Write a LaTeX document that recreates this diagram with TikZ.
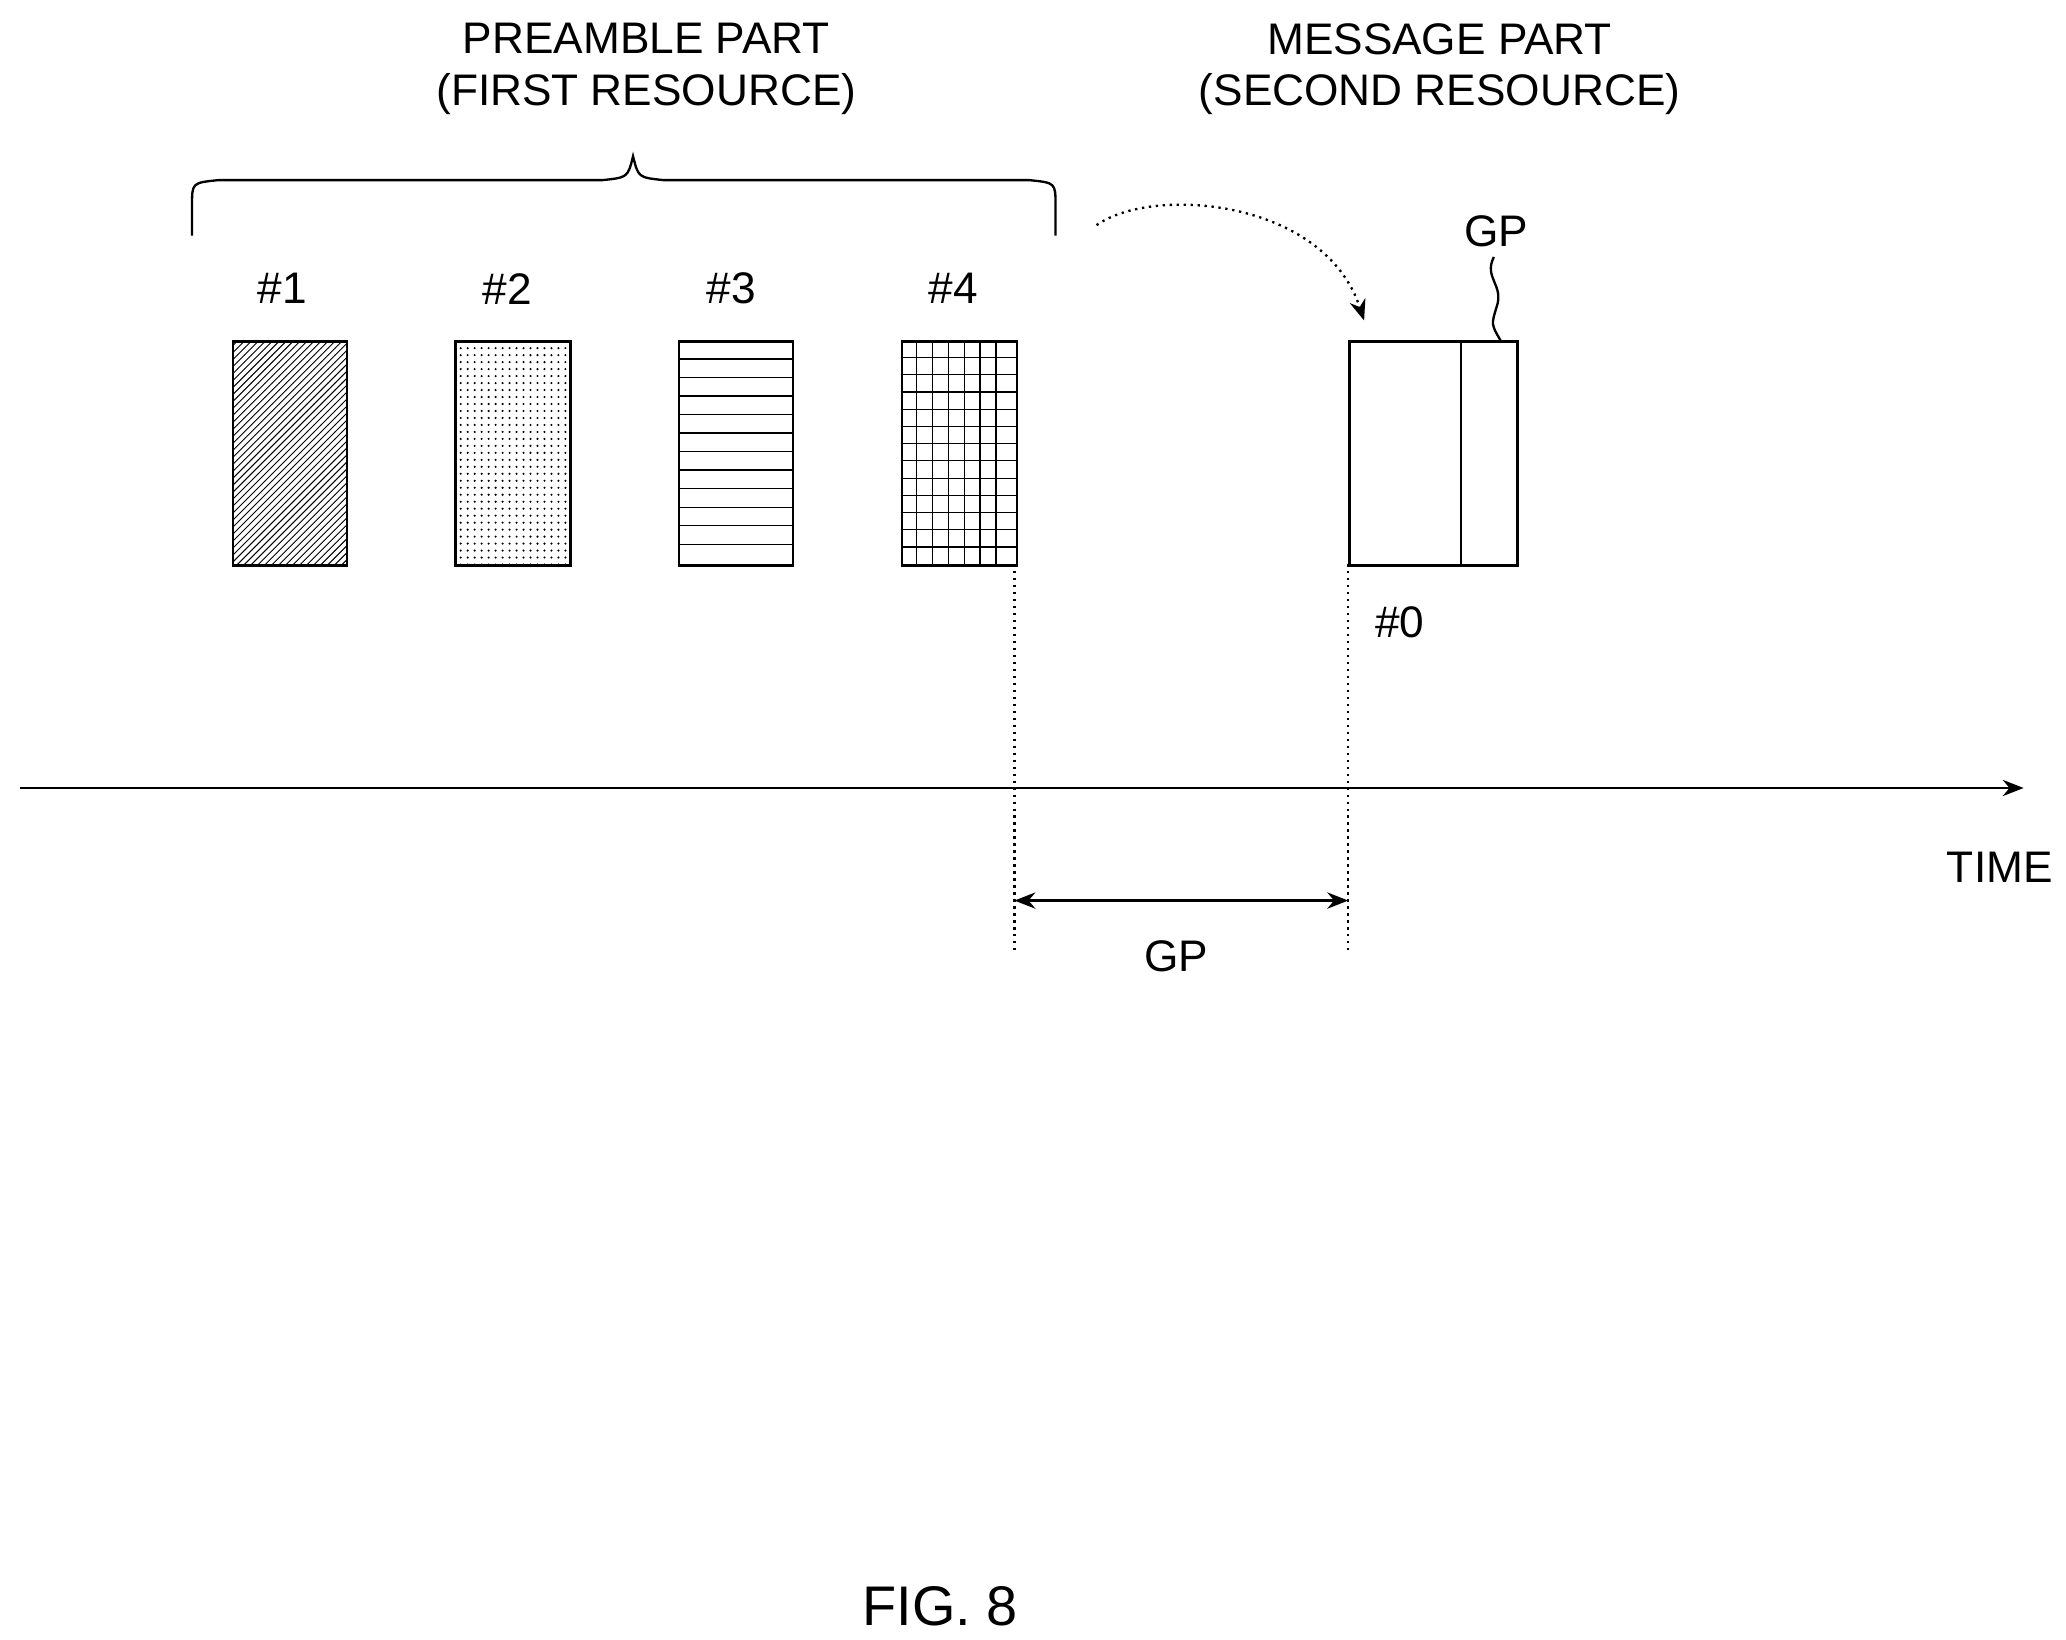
\documentclass[tikz,border=0pt]{standalone}
\usepackage{fontspec}
\setmainfont{Liberation Sans}
\usetikzlibrary{patterns,arrows.meta,decorations.pathmorphing}
\begin{document}
\begin{tikzpicture}[x=0.02cm,y=-0.02cm,
  lbl/.style={font=\fontsize{19}{22}\selectfont},
  box/.style={draw,line width=1pt},
  ln/.style={line width=1pt},
  dl/.style={line width=1pt,dotted},
  tip/.style={-{Stealth[length=9pt,width=7pt]}}]
\useasboundingbox (0,0) rectangle (1560,1238);
% titles
\node[lbl,align=center] (pre) at (488,52) {PREAMBLE PART\\(FIRST RESOURCE)};
\node[lbl,align=center] (msg) at (1087,52) {MESSAGE PART\\(SECOND RESOURCE)};
% brace
\draw[ln] (145,178) -- (145,155) .. controls (145,138) .. (165,136) -- (455,136) .. controls (474,134) .. (478,118)
  .. controls (482,134) .. (501,136) -- (777,136) .. controls (797,138) .. (797,155) -- (797,178);
% boxes
\node[box,minimum width=86*0.02cm,minimum height=169*0.02cm,pattern=north east lines,anchor=north west] (b1) at (175,257) {};
\node[box,minimum width=87*0.02cm,minimum height=169*0.02cm,pattern=dots,anchor=north west] (b2) at (343,257) {};
\node[box,minimum width=86*0.02cm,minimum height=169*0.02cm,anchor=north west] (b3) at (512,257) {};
\node[box,minimum width=87*0.02cm,minimum height=169*0.02cm,anchor=north west] (b4) at (680,257) {};
\foreach \y in {271,285,...,420} \draw[line width=0.6pt] (512,\y) -- (598,\y);
\foreach \y in {270,283,...,420} \draw[line width=0.5pt] (680,\y) -- (767,\y);
\foreach \x in {692,704,...,760} \draw[line width=0.5pt] (\x,257) -- (\x,426);
\node[lbl] (l1) at (213,218) {\#1};
\node[lbl] (l2) at (383,218) {\#2};
\node[lbl] (l3) at (552,218) {\#3};
\node[lbl] (l4) at (720,218) {\#4};
% message box
\node[box,minimum width=127*0.02cm,minimum height=169*0.02cm,anchor=north west] (m) at (1018,257) {};
\draw[ln] (1103,257) -- (1103,426);
\node[lbl] (l0) at (1057,470) {\#0};
\node[lbl] (gpt) at (1130,175) {GP};
\draw[ln] (1128,194) .. controls (1120,210) and (1136,215) .. (1130,232) .. controls (1126,245) .. (1133,257);
% curved arrow
\coordinate (cs) at (828,170);
\coordinate (ce) at (1030,242);
\draw[dl,tip] (cs) .. controls (870,140) and (1000,150) .. (ce);
% axis
\coordinate (a0) at (15,595);
\coordinate (a1) at (1528,595);
\draw[ln,tip] (a0) -- (a1);
\node[lbl] (time) at (1510,655) {TIME};
% dotted verticals
\draw[dl] (766,426) -- (766,720);
\draw[dl] (1018,426) -- (1018,720);
\coordinate (g0) at (766,680);
\coordinate (g1) at (1018,680);
\draw[ln,{Stealth[length=9pt,width=7pt]}-{Stealth[length=9pt,width=7pt]}] (g0) -- (g1);
\node[lbl] (gp) at (888,722) {GP};
\node[font=\fontsize{24}{28}\selectfont] (fig) at (710,1213) {FIG. 8};
\end{tikzpicture}
\end{document}
